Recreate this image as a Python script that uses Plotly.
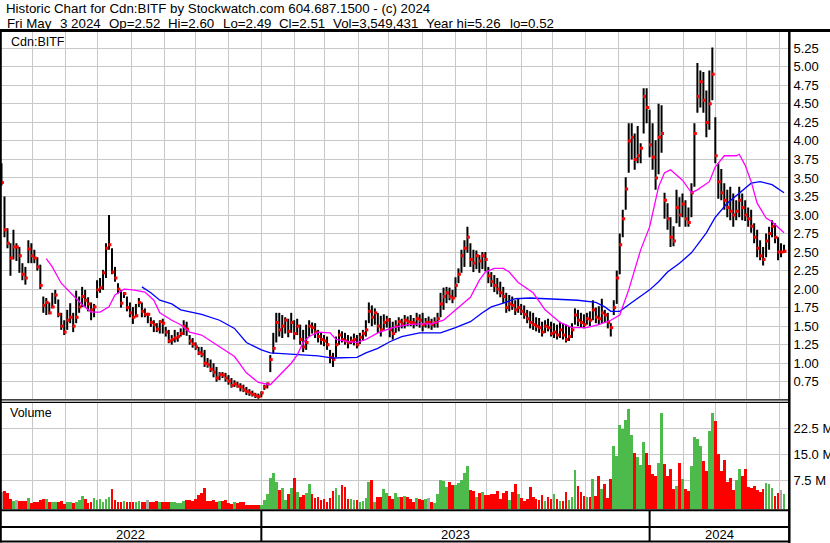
import plotly.graph_objects as go
import pandas as pd

# ---------------- data (one bar = 2 trading days) ----------------
highs = [3.70, 3.25, 2.82, 2.62, 2.80, 2.62, 2.57, 2.35, 2.30, 2.66,
         2.62, 2.53, 2.43, 2.33, 1.90, 1.88, 1.82, 1.95, 1.99, 1.86,
         1.68, 1.58, 1.72, 1.81, 1.68, 1.98, 1.90, 2.03, 1.99, 1.89,
         1.82, 1.80, 2.12, 2.15, 2.26, 2.62, 3.00, 2.55, 2.30, 2.08,
         1.99, 1.96, 1.90, 1.82, 1.76, 1.80, 1.88, 1.82, 1.74, 1.68,
         1.62, 1.58, 1.54, 1.58, 1.60, 1.49, 1.45, 1.38, 1.45, 1.42,
         1.47, 1.58, 1.56, 1.38, 1.34, 1.28, 1.22, 1.22, 1.18, 1.07,
         1.05, 1.00, 0.95, 0.88, 0.88, 0.87, 0.84, 0.80, 0.77, 0.75,
         0.73, 0.71, 0.68, 0.65, 0.63, 0.60, 0.59, 0.62, 0.71, 0.74,
         1.11, 1.41, 1.68, 1.68, 1.65, 1.62, 1.60, 1.68, 1.58, 1.60,
         1.52, 1.45, 1.52, 1.58, 1.55, 1.54, 1.45, 1.41, 1.38, 1.36,
         1.18, 1.14, 1.36, 1.45, 1.43, 1.41, 1.38, 1.36, 1.40, 1.38,
         1.41, 1.45, 1.58, 1.82, 1.78, 1.74, 1.68, 1.64, 1.66, 1.64,
         1.61, 1.56, 1.58, 1.62, 1.60, 1.65, 1.63, 1.65, 1.61, 1.68,
         1.66, 1.68, 1.61, 1.63, 1.60, 1.62, 1.68, 1.95, 2.02, 2.03,
         2.02, 1.99, 2.16, 2.28, 2.53, 2.66, 2.84, 2.62, 2.53, 2.52,
         2.46, 2.50, 2.50, 2.30, 2.23, 2.19, 2.15, 2.10, 2.03, 1.95,
         1.92, 1.90, 1.85, 1.88, 1.80, 1.78, 1.72, 1.70, 1.68, 1.62,
         1.61, 1.56, 1.58, 1.60, 1.56, 1.54, 1.52, 1.56, 1.54, 1.52,
         1.50, 1.54, 1.74, 1.72, 1.68, 1.66, 1.68, 1.70, 1.85, 1.75,
         1.77, 1.87, 1.72, 1.68, 1.54, 1.85, 2.25, 2.75, 3.07, 3.51,
         4.24, 4.24, 4.10, 4.20, 3.97, 4.71, 4.71, 4.42, 4.24, 4.01,
         4.50, 4.48, 3.30, 3.16, 2.97, 2.85, 3.34, 3.24, 3.29, 3.20,
         3.10, 3.43, 4.24, 5.05, 4.95, 4.93, 4.68, 4.95, 5.26, 4.32,
         3.70, 3.62, 3.43, 3.34, 3.38, 3.29, 3.20, 3.38, 3.29, 3.20,
         3.10, 3.07, 2.89, 2.80, 2.66, 2.57, 2.75, 2.84, 2.93, 2.89,
         2.70, 2.62, 2.60]

lows = [3.40, 2.70, 2.55, 2.18, 2.40, 2.38, 2.22, 2.12, 2.06, 2.35,
        2.35, 2.35, 2.25, 2.00, 1.68, 1.65, 1.66, 1.74, 1.80, 1.62,
        1.45, 1.38, 1.45, 1.54, 1.42, 1.54, 1.68, 1.76, 1.76, 1.70,
        1.58, 1.62, 1.88, 1.95, 1.99, 2.15, 2.53, 2.20, 2.10, 1.94,
        1.75, 1.88, 1.70, 1.62, 1.53, 1.62, 1.76, 1.62, 1.62, 1.54,
        1.49, 1.42, 1.42, 1.40, 1.40, 1.36, 1.27, 1.25, 1.28, 1.29,
        1.36, 1.38, 1.37, 1.25, 1.21, 1.18, 1.11, 1.08, 0.95, 0.94,
        0.88, 0.81, 0.75, 0.77, 0.80, 0.75, 0.71, 0.67, 0.68, 0.67,
        0.62, 0.61, 0.57, 0.56, 0.55, 0.53, 0.52, 0.54, 0.64, 0.66,
        0.88, 1.13, 1.28, 1.36, 1.34, 1.40, 1.35, 1.41, 1.32, 1.38,
        1.25, 1.15, 1.18, 1.36, 1.40, 1.34, 1.28, 1.25, 1.23, 1.18,
        1.00, 0.95, 1.08, 1.25, 1.28, 1.25, 1.20, 1.26, 1.24, 1.20,
        1.26, 1.30, 1.36, 1.54, 1.50, 1.52, 1.41, 1.36, 1.45, 1.48,
        1.35, 1.32, 1.41, 1.43, 1.47, 1.47, 1.50, 1.50, 1.47, 1.50,
        1.48, 1.43, 1.48, 1.47, 1.45, 1.48, 1.48, 1.62, 1.72, 1.81,
        1.85, 1.81, 1.89, 2.08, 2.22, 2.30, 2.49, 2.30, 2.23, 2.27,
        2.22, 2.27, 2.24, 2.08, 2.03, 1.96, 1.93, 1.89, 1.81, 1.68,
        1.70, 1.72, 1.65, 1.68, 1.65, 1.60, 1.54, 1.47, 1.45, 1.43,
        1.41, 1.36, 1.41, 1.43, 1.36, 1.34, 1.32, 1.34, 1.32, 1.28,
        1.30, 1.34, 1.52, 1.50, 1.48, 1.47, 1.52, 1.50, 1.58, 1.54,
        1.52, 1.54, 1.55, 1.47, 1.36, 1.65, 1.80, 2.20, 2.70, 3.07,
        3.57, 3.75, 3.61, 3.70, 3.70, 4.10, 4.24, 3.78, 3.61, 3.34,
        3.55, 3.84, 2.95, 2.80, 2.57, 2.58, 2.89, 2.84, 2.97, 2.84,
        2.84, 2.97, 3.38, 4.38, 4.45, 4.38, 4.05, 4.15, 4.55, 3.70,
        3.22, 3.20, 3.07, 2.97, 2.93, 2.84, 2.93, 2.97, 2.93, 2.92,
        2.84, 2.76, 2.62, 2.43, 2.39, 2.32, 2.43, 2.53, 2.70, 2.62,
        2.39, 2.43, 2.49]

closes = [3.44, 2.80, 2.62, 2.42, 2.57, 2.57, 2.45, 2.20, 2.15, 2.54,
          2.45, 2.42, 2.30, 2.05, 1.78, 1.82, 1.68, 1.76, 1.92, 1.66,
          1.50, 1.42, 1.58, 1.62, 1.50, 1.62, 1.76, 1.90, 1.85, 1.80,
          1.72, 1.76, 1.99, 2.02, 2.22, 2.55, 2.60, 2.23, 2.15, 2.00,
          1.81, 1.94, 1.75, 1.68, 1.62, 1.64, 1.82, 1.70, 1.66, 1.66,
          1.55, 1.52, 1.46, 1.56, 1.54, 1.42, 1.30, 1.32, 1.34, 1.36,
          1.40, 1.50, 1.46, 1.30, 1.26, 1.22, 1.14, 1.12, 1.00, 0.98,
          0.92, 0.88, 0.80, 0.85, 0.84, 0.80, 0.76, 0.70, 0.72, 0.69,
          0.68, 0.64, 0.62, 0.60, 0.58, 0.56, 0.55, 0.60, 0.68, 0.72,
          1.05, 1.20, 1.55, 1.45, 1.50, 1.58, 1.43, 1.55, 1.40, 1.50,
          1.32, 1.22, 1.28, 1.50, 1.48, 1.42, 1.36, 1.32, 1.30, 1.25,
          1.08, 1.05, 1.25, 1.38, 1.32, 1.30, 1.28, 1.30, 1.32, 1.25,
          1.35, 1.40, 1.45, 1.70, 1.62, 1.68, 1.50, 1.45, 1.55, 1.58,
          1.45, 1.40, 1.50, 1.56, 1.53, 1.58, 1.56, 1.55, 1.54, 1.60,
          1.58, 1.52, 1.55, 1.55, 1.52, 1.55, 1.60, 1.80, 1.90, 1.95,
          1.90, 1.88, 2.05, 2.20, 2.45, 2.55, 2.70, 2.40, 2.35, 2.45,
          2.38, 2.45, 2.40, 2.18, 2.10, 2.05, 2.00, 1.95, 1.90, 1.75,
          1.80, 1.78, 1.72, 1.75, 1.70, 1.66, 1.60, 1.55, 1.52, 1.50,
          1.48, 1.42, 1.50, 1.48, 1.40, 1.42, 1.38, 1.45, 1.38, 1.32,
          1.36, 1.45, 1.65, 1.58, 1.55, 1.52, 1.60, 1.58, 1.72, 1.62,
          1.60, 1.68, 1.65, 1.55, 1.48, 1.75, 2.15, 2.60, 2.95, 3.35,
          4.00, 4.05, 3.75, 3.80, 3.90, 4.60, 4.45, 3.95, 3.78, 3.50,
          4.05, 4.10, 3.20, 2.95, 2.70, 2.65, 3.10, 3.00, 3.15, 2.95,
          2.90, 3.30, 4.10, 4.60, 4.80, 4.55, 4.25, 4.50, 4.90, 3.80,
          3.45, 3.30, 3.20, 3.10, 3.05, 3.00, 3.05, 3.20, 3.10, 3.00,
          2.95, 2.85, 2.70, 2.55, 2.45, 2.40, 2.65, 2.75, 2.85, 2.70,
          2.50, 2.50, 2.51]

volumes_m = [4.0, 4.4, 3.75, 2.1, 1.5, 1.8, 1.5, 1.5, 1.5, 2.5,
             1.0, 1.2, 1.2, 1.8, 2.1, 2.1, 1.2, 1.2, 1.2, 1.3,
             1.5, 0.6, 1.3, 1.2, 0.9, 1.3, 1.8, 3.1, 2.2, 1.0,
             1.3, 2.5, 1.8, 2.1, 1.3, 2.2, 2.8, 5.1, 1.7, 1.2,
             1.2, 1.5, 1.3, 1.2, 1.3, 1.3, 1.5, 1.2, 1.3, 1.8,
             1.2, 1.2, 1.5, 1.3, 1.3, 1.2, 1.3, 1.2, 1.2, 0.9,
             0.9, 1.5, 1.8, 1.8, 1.5, 2.1, 3.3, 3.9, 5.2, 1.5,
             1.5, 1.8, 1.3, 1.5, 1.5, 1.8, 0.9, 0.6, 1.2, 0.9,
             1.3, 1.2, 0.4, 0.4, 0.5, 0.4, 0.5, 0.5, 1.8, 3.5,
             8.1, 9.5, 6.9, 4.7, 5.2, 1.8, 3.5, 5.2, 8.1, 4.2,
             2.8, 3.3, 3.75, 6.4, 3.6, 2.3, 2.6, 1.8, 2.1, 1.3,
             2.3, 4.5, 5.2, 3.3, 6.1, 5.5, 2.1, 2.1, 1.8, 1.8,
             1.3, 1.5, 2.3, 7.1, 7.6, 1.3, 2.8, 2.8, 5.0, 3.9,
             3.0, 2.2, 3.75, 2.8, 2.6, 3.0, 2.8, 2.0, 1.3, 2.3,
             2.0, 1.8, 2.0, 2.3, 1.3, 1.0, 3.5, 7.6, 7.4, 5.5,
             7.1, 6.1, 6.1, 6.6, 7.6, 9.5, 11.6, 4.7, 4.4, 2.8,
             3.75, 4.2, 3.3, 3.3, 3.6, 3.6, 4.5, 2.0, 3.75, 4.5,
             1.8, 4.1, 6.4, 3.5, 2.3, 1.6, 2.0, 5.5, 2.8, 2.2,
             1.8, 3.2, 1.5, 2.6, 2.0, 3.5, 2.2, 1.6, 1.4, 4.0,
             1.9, 2.8, 10.5, 5.8, 4.0, 3.0, 2.6, 2.8, 7.9, 3.0,
             8.7, 4.9, 6.3, 2.3, 7.9, 17.4, 14.5, 23.4, 22.3, 24.9,
             28.1, 20.6, 15.5, 14.2, 11.9, 18.5, 15.5, 11.9, 9.3, 8.6,
             12.6, 26.9, 12.2, 8.6, 10.7, 5.0, 6.0, 12.4, 8.0, 5.0,
             4.5, 11.7, 20.0, 19.4, 17.5, 13.2, 10.3, 21.7, 26.9, 24.7,
             15.2, 10.3, 13.5, 7.0, 8.2, 4.8, 7.6, 10.8, 8.7, 10.8,
             5.5, 5.3, 6.0, 4.8, 4.2, 5.1, 6.8, 6.3, 5.3, 3.1,
             3.8, 4.8, 3.55]

# moving averages (bar position, price)
ma_short_x = [15, 17, 20, 23, 27, 30, 33, 36, 38, 41, 44, 48, 51, 53, 57, 60, 63, 67, 73, 78,
              82, 86, 90, 93, 97, 99, 101, 103, 106, 110, 112, 116, 119, 122, 126, 131, 136, 140,
              144, 148, 150, 153, 157, 160, 162, 165, 168, 170, 173, 178, 182, 187, 191, 196, 200,
              204, 207, 210, 214, 217, 220, 222, 224, 228, 231, 233, 237, 239, 242, 246, 247, 249,
              251, 253, 256, 258, 260, 262]
ma_short_y = [2.41, 2.30, 2.08, 1.95, 1.79, 1.69, 1.69, 1.76, 1.92, 2.00, 1.99, 1.96, 1.85, 1.68,
              1.58, 1.52, 1.42, 1.38, 1.22, 1.09, 0.87, 0.74, 0.71, 0.84, 1.00, 1.11, 1.28, 1.36,
              1.42, 1.41, 1.32, 1.29, 1.28, 1.32, 1.41, 1.48, 1.52, 1.53, 1.53, 1.58, 1.65, 1.76,
              1.89, 2.12, 2.23, 2.28, 2.28, 2.23, 2.09, 1.95, 1.72, 1.55, 1.48, 1.48, 1.52, 1.58,
              1.65, 1.99, 2.53, 2.84, 3.38, 3.57, 3.61, 3.47, 3.30, 3.34, 3.45, 3.65, 3.80, 3.80,
              3.82, 3.67, 3.45, 3.16, 2.96, 2.91, 2.84, 2.76]
ma_long_x = [47, 50, 53, 57, 60, 63, 67, 73, 78, 82, 87, 90, 94, 100, 106, 111, 114, 119, 122,
             126, 130, 134, 140, 147, 152, 157, 161, 164, 168, 172, 177, 184, 193, 199, 202, 204,
             207, 210, 213, 217, 220, 223, 227, 231, 236, 239, 243, 247, 251, 254, 258, 262]
ma_long_y = [2.03, 1.95, 1.85, 1.80, 1.72, 1.69, 1.66, 1.58, 1.47, 1.28, 1.18, 1.14, 1.13, 1.11,
             1.10, 1.07, 1.07, 1.08, 1.14, 1.20, 1.29, 1.36, 1.41, 1.41, 1.48, 1.56, 1.68, 1.76,
             1.81, 1.87, 1.88, 1.87, 1.85, 1.82, 1.76, 1.70, 1.70, 1.79, 1.88, 1.99, 2.10, 2.23,
             2.35, 2.49, 2.76, 2.97, 3.16, 3.30, 3.43, 3.45, 3.41, 3.30]

price_ticks = [0.75, 1.00, 1.25, 1.50, 1.75, 2.00, 2.25, 2.50, 2.75, 3.00,
               3.25, 3.50, 3.75, 4.00, 4.25, 4.50, 4.75, 5.00, 5.25]
vol_ticks = [7.5, 15.0, 22.5]
vol_tick_text = ["7.5 M", "15.0 M", "22.5 M"]

header1 = "Historic Chart for Cdn:BITF by Stockwatch.com 604.687.1500 - (c) 2024"
header2 = "Fri May  3 2024  Op=2.52  Hi=2.60  Lo=2.49  Cl=2.51  Vol=3,549,431  Year hi=5.26  lo=0.52"
symbol_label = "Cdn:BITF"
volume_label = "Volume"

# ---------------- geometry helpers ----------------
W, H = 830, 543
def X(px):
    return px / W
def Y(py):
    return 1 - py / H

FONT = "Liberation Sans, Arial, sans-serif"
GRID = "#c8c8c8"
XR = 788.5 / W

n = len(closes)
idx = list(range(n))
days = pd.bdate_range("2022-05-02", periods=2 * n - 1)
month_pos = [k / 2 - 0.5 for k in range(1, len(days)) if days[k].month != days[k - 1].month]
year_pos = [k / 2 - 0.5 for k in range(1, len(days)) if days[k].year != days[k - 1].year]
x_lo, x_hi = -0.5, n + 0.5
year_names = [str(days[0].year)] + [str(days[0].year + j + 1) for j in range(len(year_pos))]
edges = [x_lo] + year_pos + [x_hi]
year_mid = [(edges[j] + edges[j + 1]) / 2 for j in range(len(year_names))]

fig = go.Figure()

# high-low bars
bx, by = [], []
for i, (h, l) in enumerate(zip(highs, lows)):
    bx += [i, i, None]
    by += [l, h, None]
fig.add_trace(go.Scatter(x=bx, y=by, mode="lines", line=dict(color="black", width=2),
                         hoverinfo="skip", xaxis="x", yaxis="y"))
# close ticks
fig.add_trace(go.Scatter(x=[i + 0.3 for i in idx], y=closes, mode="markers",
                         marker=dict(symbol="square", size=3, color="#ff0000", line=dict(width=0)),
                         hoverinfo="skip", xaxis="x", yaxis="y"))
# moving averages
fig.add_trace(go.Scatter(x=ma_long_x, y=ma_long_y, mode="lines",
                         line=dict(color="#0000ff", width=1.3), hoverinfo="skip", xaxis="x", yaxis="y"))
fig.add_trace(go.Scatter(x=ma_short_x, y=ma_short_y, mode="lines",
                         line=dict(color="#ff00ff", width=1.3), hoverinfo="skip", xaxis="x", yaxis="y"))

# volume
vcolors = []
for i, c in enumerate(closes):
    if i == 0 or c == closes[i - 1]:
        vcolors.append("#a8a8a8")
    elif c > closes[i - 1]:
        vcolors.append("#4cbb4c")
    else:
        vcolors.append("#ff0000")
VBASE = -0.78
fig.add_trace(go.Bar(x=idx, y=[v - VBASE for v in volumes_m], base=VBASE, width=0.92,
                     marker=dict(color=vcolors, line=dict(width=0)),
                     hoverinfo="skip", xaxis="x2", yaxis="y2"))

axis_common = dict(showline=False, zeroline=False, ticks="", fixedrange=True)
fig.update_layout(
    width=W, height=H, margin=dict(l=0, r=0, t=0, b=0, pad=0),
    paper_bgcolor="white", plot_bgcolor="white", showlegend=False, bargap=0,
    xaxis=dict(domain=[0, XR], range=[x_lo, x_hi], tickvals=month_pos, showticklabels=False,
               showgrid=True, gridcolor=GRID, gridwidth=1, anchor="y", **axis_common),
    yaxis=dict(domain=[Y(399), Y(32)], range=[0.517, 5.47], side="right", tickvals=price_ticks,
               ticktext=[f"{t:.2f}" for t in price_ticks], showgrid=True, gridcolor=GRID,
               gridwidth=1, anchor="x", automargin=False, ticklabelstandoff=4,
               tickfont=dict(family=FONT, size=13, color="black"), **axis_common),
    xaxis2=dict(domain=[0, XR], range=[x_lo, x_hi], tickvals=month_pos, showticklabels=False,
                showgrid=True, gridcolor=GRID, gridwidth=1, anchor="y2", **axis_common),
    yaxis2=dict(domain=[Y(509), Y(403)], range=[VBASE, 29.8], side="right", tickvals=vol_ticks,
                ticktext=vol_tick_text, showgrid=True, gridcolor=GRID, gridwidth=1,
                anchor="x2", automargin=False, ticklabelstandoff=4,
                tickfont=dict(family=FONT, size=13, color="black"), **axis_common),
)

shapes = []
def hline(py, x0, x1, w):
    shapes.append(dict(type="line", xref="paper", yref="paper", x0=X(x0), x1=X(x1),
                       y0=Y(py), y1=Y(py), line=dict(color="black", width=w)))
def vline(px, y0, y1, w):
    shapes.append(dict(type="line", xref="paper", yref="paper", x0=X(px), x1=X(px),
                       y0=Y(y0), y1=Y(y1), line=dict(color="black", width=w)))

hline(30.5, 0, 830, 3)
vline(0.8, 30, 542.5, 2)
vline(789.3, 30, 543, 2.5)
hline(399.8, 0, 789, 1.3)
hline(402.3, 0, 789, 1.3)
hline(510.2, 0, 789, 2)
hline(527, 0, 789, 2)
hline(541.6, 0, 789, 2)
for yp in year_pos:
    shapes.append(dict(type="line", xref="x", yref="paper", x0=yp, x1=yp, y0=Y(510), y1=Y(541.6),
                       line=dict(color="black", width=2)))
fig.update_layout(shapes=shapes)

# header line 2 is laid out field by field (fields separated by double spaces)
header2_parts = header2.split("  ")
header2_left_px = [5, 58, 107, 166, 221, 277, 331, 424, 508]

ann = [
    dict(text=header1, x=X(4), y=Y(9), xanchor="left", yanchor="middle", font_size=13.3),
    dict(text=symbol_label, x=X(9), y=Y(42), xanchor="left", yanchor="middle", font_size=12.5),
    dict(text=volume_label, x=X(8), y=Y(413), xanchor="left", yanchor="middle", font_size=12.5),
]
for part, lx in zip(header2_parts, header2_left_px):
    ann.append(dict(text=part, x=X(lx), y=Y(23), xanchor="left", yanchor="middle", font_size=13.3))
for a in ann:
    a.update(xref="paper", yref="paper", showarrow=False)
    a["font"] = dict(family=FONT, size=a.pop("font_size"), color="black")
for name, xm in zip(year_names, year_mid):
    ann.append(dict(text=name, x=xm, y=Y(534), xref="x", yref="paper", xanchor="center",
                    yanchor="middle", showarrow=False, font=dict(family=FONT, size=13, color="black")))
fig.update_layout(annotations=ann)

fig.write_html("out.html", config={"displayModeBar": False},
               post_script="document.body.style.margin='0';document.body.style.overflow='hidden';")
